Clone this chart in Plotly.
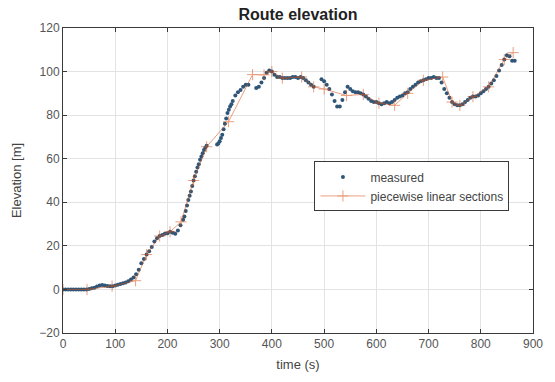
import plotly.graph_objects as go

# measured elevation samples (time in s, elevation in m); None = no data
t_meas = [
    0, 5, 10, 15, 20, 25, 30, 35, 40, 45,
    50, 55, 60, 65, 70, 75, 80, 85, 90, 95,
    100, 105, 110, 115, 120, 125, 130, 135, 140, 145,
    150, 155, 160, 165, 170, 175, 180, 185, 190, 195,
    200, 205, 210, 215, 220, 225,
    230, 232.5, 235, 237.5, 240, 242.5, 245, 247.5, 250, 252.5,
    255, 257.5, 260, 262.5, 265, 267.5, 270, 272.5, 275, 285,
    295, 297.5, 300, 302.5, 305, 307.5, 310, 312.5, 315, 317.5,
    320, 322.5, 325, 330, 335, 340, 345, 350, 355, 362,
    370, 375, 380, 385, 390, 395,
    400, 405, 410, 415, 420, 425, 430, 435, 440, 445,
    450, 455, 460, 465, 470, 475, 480, 488,
    495, 500, 505, 510, 515, 520, 525, 530, 535, 540, 545,
    550, 555, 560, 565, 570, 575, 580, 585, 590, 595,
    600, 605, 610, 615, 620, 625, 630, 635, 640, 645,
    650, 655, 660, 665, 670, 675, 680, 685, 690, 695,
    700, 705, 710, 715, 720, 725, 730, 735, 740, 745,
    750, 755, 760, 765, 770, 775, 780, 785, 790, 795,
    800, 805, 810, 815, 820, 825, 830, 835, 840, 845,
    850, 855, 860, 865,
]
e_meas = [
    0, 0, 0, 0, 0, 0, 0, 0, 0, 0,
    0.2, 0.5, 0.8, 1.3, 1.8, 2.0, 1.8, 1.6, 1.5, 1.5,
    1.8, 2.2, 2.5, 2.8, 3.2, 3.8, 4.5, 5.5, 7, 9,
    12, 14, 16, 17.5, 19.5, 22, 23.5, 24.5, 25, 25.5,
    25.8, 26.5, 26, 25.5, 27, 29.5,
    32, 33.5, 36, 38.5, 41, 43, 45, 47.5, 50, 52,
    54, 56, 57.5, 59.5, 61, 62.5, 64, 65, 66, None,
    66.5, 67, 68, 69.5, 71, 73.5, 76, 78.5, 81, 82.5,
    84, 85, 86.5, 89, 90.5, 91.5, 93, 94, 94, None,
    92.5, 93, 95, 97, 99.5, 100.5,
    100, 98.5, 97.5, 97.5, 97, 97, 97, 97, 97.5, 97.5,
    97, 97.5, 97, 96, 95, 94, 93, None,
    96.5, 95.5, 94, 92, 89.5, 86.5, 84, 84, 87, 90.5, 93,
    92, 91, 90.5, 90.5, 90, 89.5, 88.5, 87.5, 86.5, 86,
    86, 85.5, 85, 85.5, 86, 85.5, 86, 87, 88, 88.5,
    89, 90, 90.5, 92, 93, 94, 95, 95.5, 96, 96.5,
    97, 97, 97.5, 97, 97, 95, 92, 90, 88, 86,
    85, 84.5, 84.5, 85, 86, 87, 88, 88.5, 88.5, 89,
    90, 91, 92, 93, 94.5, 96, 98, 100.5, 103, 105.5,
    107.5, 107, 105, 105,
]

# piecewise linear section breakpoints
t_pw = [0, 46, 94, 139, 160, 185, 205, 226, 250, 275, 317, 363, 385, 400, 420,
        457, 480, 500, 543, 575, 605, 635, 660, 690, 727, 745, 760, 785, 815, 845, 862]
e_pw = [0, 0, 1.5, 4, 16, 24.5, 26.5, 31, 50, 65.5, 77, 98.6, 98.5, 100, 97,
        97.5, 93, 92, 89, 89.5, 85.5, 84.5, 90, 96, 97.5, 86, 84.5, 88.5, 93, 105.5, 108.7]

x_ticks = list(range(0, 901, 100))
y_ticks = list(range(-20, 121, 20))

FONT = "Liberation Sans, Arial, sans-serif"

fig = go.Figure()
fig.add_trace(go.Scatter(
    x=t_meas, y=e_meas, mode="markers", name="measured",
    marker=dict(color="#2f5677", size=4),
))
fig.add_trace(go.Scatter(
    x=t_pw, y=e_pw, mode="lines+markers", name="piecewise linear sections",
    line=dict(color="#D95319", width=1),
    marker=dict(symbol="cross-thin", size=8, line=dict(color="#D95319", width=1)),
    opacity=0.55,
))

axis_common = dict(
    showline=True, linecolor="#3a3a3a", linewidth=1, mirror="ticks",
    ticks="inside", ticklen=4, tickcolor="#3a3a3a",
    showgrid=True, gridcolor="#e3e3e3", gridwidth=1, zeroline=False,
    tickfont=dict(family=FONT, size=12, color="#555555"),
)
fig.update_xaxes(range=[0, 900], tickvals=x_ticks,
                 title=dict(text="time (s)", font=dict(family=FONT, size=13, color="#444444"), standoff=9),
                 **axis_common)
fig.update_yaxes(range=[-20, 120], tickvals=y_ticks,
                 title=dict(text="Elevation [m]", font=dict(family=FONT, size=13, color="#444444"), standoff=14),
                 **axis_common)

fig.update_layout(
    width=555, height=382,
    margin=dict(l=63, r=12, t=28, b=47),
    paper_bgcolor="white", plot_bgcolor="white",
    title=dict(text="<b>Route elevation</b>", x=0.5, xref="paper", y=1 - 14 / 382, yanchor="middle",
               font=dict(family=FONT, size=16, color="#222222")),
    legend=dict(x=0.535, y=0.5625, xanchor="left", yanchor="top",
                bgcolor="white", bordercolor="#3a3a3a", borderwidth=1,
                font=dict(family=FONT, size=12, color="#444444"),
                tracegroupgap=0, itemwidth=45),
    showlegend=True,
)

fig.write_html("out.html", post_script="document.body.style.margin='0';",
               config={"displayModeBar": False})
